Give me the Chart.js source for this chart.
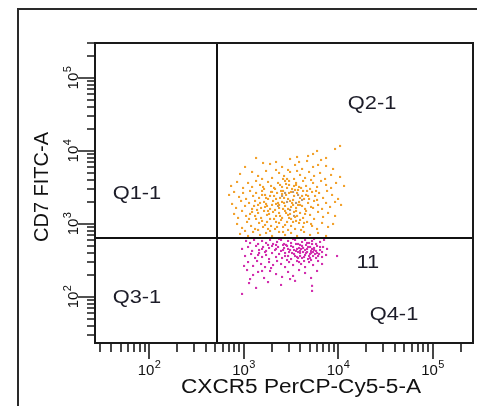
<!DOCTYPE html>
<html><head><meta charset="utf-8">
<script src="https://cdn.jsdelivr.net/npm/chart.js@4.4.1/dist/chart.umd.min.js"></script>
<style>html,body{margin:0;padding:0;background:#fff;}#wrap{width:477px;height:406px;position:relative;}</style>
</head><body><div id="wrap"><canvas id="c"></canvas></div>
<script>
const xAxisTitle = 'CXCR5 PerCP-Cy5-5-A';
const yAxisTitle = 'CD7 FITC-A';
const xRange = [26.8, 268000];
const yRange = [23.4, 301600];
const decadeExponents = [2, 3, 4, 5];
const gateX = 524;
const gateY = 643;
const quadrantLabels = ['Q1-1', 'Q2-1', 'Q3-1', 'Q4-1'];
const q4CountLabel = '11';

const q2Points = [
[10500,11710],[9296,10653],[5995,10000],[5439,9098],[4815,8542],[3682,8277],[7466,8020],[3105,7771],[1357,8020],[6609,7530],
[1608,6850],[1907,6638],[2555,6039],[3507,6432],[4160,5670],[4699,7296],[8854,5670],[5439,6039],[2207,7070],[2958,5494],[6143,6432],[1037,6039],[7466,6232],[3866,7070],
[918,4843],[1231,5158],[1425,4547],[1730,5323],[2002,4269],[2375,4998],[2682,4547],[3105,5158],[3423,4137],[3962,4693],[4475,4269],[4933,5158],[5573,4547],[6450,4998],[7286,4137],[8433,4693],[10500,4406],[1570,4137],[2207,5494],[3682,5323],[5180,4008],[2886,4137],
[738,3318],[854,3763],[988,3115],[1116,3647],[1231,3215],[1357,3884],[1495,3424],[1648,3018],[1816,3763],[1954,3318],[2154,3018],[2317,3647],[2555,3215],[2749,3884],[3031,3424],[3260,3018],[3594,3647],[3866,3215],[4263,3884],[4585,3318],[5055,3018],[5439,3647],[5995,3215],[6609,3884],[7466,3424],[8433,3115],[9525,3647],[11575,3318],[2817,3533],[3423,3318],
[703,2498],[794,2746],[896,2345],[988,2661],[1063,2202],[1172,2834],[1261,2421],[1357,2661],[1460,2273],[1570,2834],[1688,2498],[1816,2202],[1954,2746],[2102,2421],[2262,2661],[2433,2273],[2618,2834],[2817,2498],[2958,2202],[3182,2746],[3423,2421],[3682,2661],[3962,2273],[4263,2834],[4585,2498],[4933,2202],[5308,2746],[5710,2421],[6295,2661],[6939,2273],[7650,2834],[8641,2498],[10000,2202],[2555,2578],[3031,2661],[3507,2925],[2207,2202],[1570,2498],
[756,1881],[833,1658],[941,2068],[1037,1766],[1143,1941],[1231,1607],[1324,2068],[1425,1823],[1532,1658],[1648,2004],[1772,1766],[1907,1607],[2052,2068],[2207,1881],[2375,1658],[2555,2004],[2749,1766],[2958,1607],[3105,2068],[3341,1823],[3594,1658],[3866,2004],[4160,1766],[4475,1607],[4815,1941],[5180,1711],[5573,2068],[6143,1823],[6772,1607],[7466,1941],[8230,1711],[9296,2004],[10759,1823],[2002,1823],[2682,1941],[3260,1941],[1495,1941],[3962,1823],[2375,1823],[1730,1881],
[794,1372],[875,1210],[964,1509],[1063,1288],[1143,1172],[1231,1462],[1324,1288],[1425,1416],[1532,1210],[1648,1509],[1772,1330],[1907,1172],[2052,1462],[2207,1288],[2375,1416],[2555,1210],[2749,1509],[2958,1330],[3182,1172],[3423,1462],[3682,1288],[3962,1416],[4263,1210],[4585,1509],[5055,1330],[5573,1172],[6143,1462],[6939,1248],[7839,1416],[9296,1288],[1816,1509],[2433,1288],[3105,1372],[1357,1172],[3962,1136],[2102,1172],
[854,1000],[964,882],[1089,1066],[1201,939],[1324,854],[1460,1033],[1608,910],[1772,1066],[1954,939],[2154,854],[2375,1033],[2618,910],[2886,1066],[3182,939],[3507,854],[3866,1033],[4263,910],[4699,1066],[5308,939],[5995,854],[6772,1033],[7839,910],[8854,1000],[1688,969],[2749,969],[3594,1101],[2207,1066],[1425,828],[4060,828],[1037,802],
[918,730],[1116,685],[1261,777],[1495,707],[1730,753],[2002,685],[2375,777],[2749,707],[3182,753],[3682,685],[4368,777],[5055,707],[6143,753],[7466,685],[1907,802],[2958,828],
[2102,3115],[2493,2834],[2886,3115],[3341,2134],[3773,2925],[4160,2421],[2682,2273],[2317,1941],[3182,1711],[3594,1509],[2817,1416],[2154,1557],[2493,1136],[3341,1066],[4475,1372],[4815,2421],[1907,2421],[1688,1711],[1390,1557],[1570,1101],[4060,3115],[4699,2834],[5439,1658],[5851,2834],[3031,3884],[2433,3424],[1861,1372],[3507,1248],[4368,1033],[2618,777],
[1730,2273],[1608,3215],[2618,1607],[3773,1823],[4368,2202],[3031,1210],[2262,910],[1816,854],[1292,1766],[1172,1372],[5995,2134],[5180,1000],[3594,3424],[2618,4137],[2002,2746]
];

const q2GrayPoints = [
[3341,2746],[3773,2498],[2886,2004],[3105,1557],[2555,2421],[4160,2134],[2317,1766],[3594,1941],[2749,2661],[3423,1288]
];

const q4Points = [
[1063,585],[1172,549],[1292,604],[1425,532],[1570,585],[1730,549],[1907,604],[2052,532],[2262,567],[2493,604],[2682,532],[2958,585],[3182,549],[3507,604],[3773,532],[4160,567],[4475,604],[4933,549],[5308,585],[5851,532],[6450,567],[7111,604],[1816,516],[2817,516],[3962,516],[2375,623],[3341,623],[5573,623],
[964,455],[1116,484],[1231,427],[1357,500],[1460,440],[1608,484],[1730,427],[1861,469],[2002,500],[2154,440],[2317,484],[2493,427],[2682,469],[2886,500],[3105,440],[3341,484],[3594,427],[3866,469],[4160,500],[4475,440],[4815,484],[5180,427],[5573,469],[5995,500],[6450,440],[6939,484],[7650,455],[3031,413],[4263,413],[5308,455],[3682,455],[2618,440],
[1037,364],[1201,388],[1324,342],[1460,400],[1570,353],[1730,376],[1861,331],[2002,400],[2207,353],[2375,388],[2555,342],[2749,400],[2958,364],[3182,331],[3423,388],[3682,353],[3962,400],[4160,342],[4475,376],[4815,331],[5180,400],[5439,364],[5851,342],[6295,388],[6772,353],[7466,376],[9760,364],[3507,364],[4585,400],[4933,364],[5710,388],[3260,400],[3962,364],[6143,364],
[1116,301],[1261,266],[1390,311],[1532,283],[1688,257],[1861,301],[2052,274],[2262,311],[2493,283],[2749,257],[3031,301],[3341,274],[3682,311],[4060,283],[4475,257],[4933,301],[5439,274],[6143,311],[6772,283],[1012,266],[2886,321],[3866,301],[5180,321],[1954,249],
[1089,234],[1261,200],[1425,220],[1648,182],[1907,227],[2207,206],[2555,188],[2958,220],[3341,194],[3866,234],[4475,213],[5180,182],[5995,227],[1172,176],[1570,227],[3105,176],
[1143,155],[1357,133],[1816,160],[2493,146],[3507,166],[5308,142],[5308,121],[964,110],
[3423,440],[4060,455],[4699,413],[5055,484],[5439,413],[4368,353],[3773,413],[5851,427],[4585,516],[2749,364],[2207,455],[1570,455],
[3182,500],[3594,532],[3962,427],[4263,469],[4699,549],[5055,388],[5573,440],[5995,400],[6450,484],[6772,413],[3773,342],[4368,311],[5055,342],[2958,455],[2618,516],[2207,516],[1688,413],[1425,376],[4699,455],[5308,532]
];

const FONT = "'Liberation Sans', Arial, sans-serif";
const toPts = arr => arr.map(p => ({x: p[0], y: p[1]}));

function minorTicks(range) {
  const out = [];
  for (let e = 1; e <= 5; e++) {
    for (let m = 2; m <= 9; m++) {
      const v = m * Math.pow(10, e);
      if (v > range[0] && v < range[1]) out.push(v);
    }
  }
  return out;
}

function drawPow(ctx, exp, cx, base) {
  ctx.font = '15px ' + FONT;
  const w1 = ctx.measureText('10').width;
  ctx.font = '11px ' + FONT;
  const w2 = ctx.measureText(String(exp)).width;
  const start = cx - (w1 + w2) / 2;
  ctx.textAlign = 'left';
  ctx.textBaseline = 'alphabetic';
  ctx.font = '15px ' + FONT;
  ctx.fillText('10', start, base);
  ctx.font = '11px ' + FONT;
  ctx.fillText(String(exp), start + w1 + 0.5, base - 7);
}

function stretchedText(ctx, text, cx, base, font, targetW) {
  ctx.font = font;
  const w = ctx.measureText(text).width;
  const s = targetW ? targetW / w : 1;
  ctx.save();
  ctx.translate(cx, base);
  ctx.scale(s, 1);
  ctx.textAlign = 'center';
  ctx.textBaseline = 'alphabetic';
  ctx.fillText(text, 0, 0);
  ctx.restore();
}

const flowPlugin = {
  id: 'flowDecor',
  afterDraw(chart) {
    const ctx = chart.ctx;
    const a = chart.chartArea;
    const xs = chart.scales.x, ys = chart.scales.y;
    ctx.save();
    ctx.strokeStyle = '#2a2a2a';
    ctx.lineWidth = 2;
    ctx.beginPath();
    ctx.moveTo(18, chart.height);
    ctx.lineTo(18, 9);
    ctx.lineTo(chart.width, 9);
    ctx.stroke();
    ctx.strokeStyle = '#111';
    ctx.lineWidth = 2;
    const gx = Math.round(xs.getPixelForValue(gateX));
    const gy = Math.round(ys.getPixelForValue(gateY));
    ctx.beginPath();
    ctx.moveTo(gx, a.top); ctx.lineTo(gx, a.bottom);
    ctx.moveTo(a.left, gy); ctx.lineTo(a.right, gy);
    ctx.stroke();
    ctx.strokeStyle = '#1a1a1a';
    ctx.strokeRect(a.left, a.top, a.right - a.left, a.bottom - a.top);
    ctx.lineWidth = 1.6;
    ctx.beginPath();
    minorTicks(xRange).forEach(v => {
      const p = Math.round(xs.getPixelForValue(v));
      ctx.moveTo(p, a.bottom); ctx.lineTo(p, a.bottom + 9);
    });
    minorTicks(yRange).forEach(v => {
      const p = Math.round(ys.getPixelForValue(v));
      ctx.moveTo(a.left, p); ctx.lineTo(a.left - 8, p);
    });
    decadeExponents.forEach(e => {
      const v = Math.pow(10, e);
      const px = Math.round(xs.getPixelForValue(v));
      ctx.moveTo(px, a.bottom); ctx.lineTo(px, a.bottom + 16);
      const py = Math.round(ys.getPixelForValue(v));
      ctx.moveTo(a.left, py); ctx.lineTo(a.left - 17, py);
    });
    ctx.stroke();
    ctx.fillStyle = '#111';
    decadeExponents.forEach(e => {
      const v = Math.pow(10, e);
      drawPow(ctx, e, xs.getPixelForValue(v), a.bottom + 32);
      ctx.save();
      ctx.translate(a.left - 17, ys.getPixelForValue(v));
      ctx.rotate(-Math.PI / 2);
      drawPow(ctx, e, 0, 0);
      ctx.restore();
    });
    ctx.fillStyle = '#111';
    stretchedText(ctx, xAxisTitle, 301, 393, '20px ' + FONT, 240);
    ctx.save();
    ctx.translate(48, 187);
    ctx.rotate(-Math.PI / 2);
    stretchedText(ctx, yAxisTitle, 0, 0, '20px ' + FONT, 110);
    ctx.restore();
    const W = a.right - a.left, H = a.bottom - a.top;
    const qpos = [[0.111, 0.52], [0.733, 0.22], [0.111, 0.866], [0.791, 0.924]];
    ctx.fillStyle = '#1c1c28';
    quadrantLabels.forEach((t, i) => {
      const f = '19px ' + FONT;
      ctx.font = f;
      const w = ctx.measureText(t).width;
      stretchedText(ctx, t, a.left + qpos[i][0] * W, a.top + qpos[i][1] * H, f, w * 1.15);
    });
    ctx.font = '19px ' + FONT;
    const w11 = ctx.measureText(q4CountLabel).width;
    stretchedText(ctx, q4CountLabel, a.left + 0.722 * W, a.top + 0.75 * H, '19px ' + FONT, w11 * 1.15);
    ctx.restore();
  }
};

const ptStyle = {pointStyle: 'rect', pointRadius: 1.5, pointBorderWidth: 0, pointHoverRadius: 1.5, showLine: false};

new Chart(document.getElementById('c'), {
  type: 'scatter',
  data: {
    datasets: [
      Object.assign({label: 'Q2-1', data: toPts(q2Points), backgroundColor: '#F2A22E'}, ptStyle),
      Object.assign({label: 'Q2-1 gray', data: toPts(q2GrayPoints), backgroundColor: '#B4977A'}, ptStyle),
      Object.assign({label: 'Q4-1', data: toPts(q4Points), backgroundColor: '#D22FAE'}, ptStyle)
    ]
  },
  options: {
    responsive: true,
    maintainAspectRatio: false,
    animation: false,
    events: [],
    layout: {padding: {left: 95, top: 43, right: 4, bottom: 63}},
    scales: {
      x: {type: 'logarithmic', min: xRange[0], max: xRange[1], display: false},
      y: {type: 'logarithmic', min: yRange[0], max: yRange[1], display: false}
    },
    plugins: {legend: {display: false}, tooltip: {enabled: false}}
  },
  plugins: [flowPlugin]
});
</script>
</body></html>
